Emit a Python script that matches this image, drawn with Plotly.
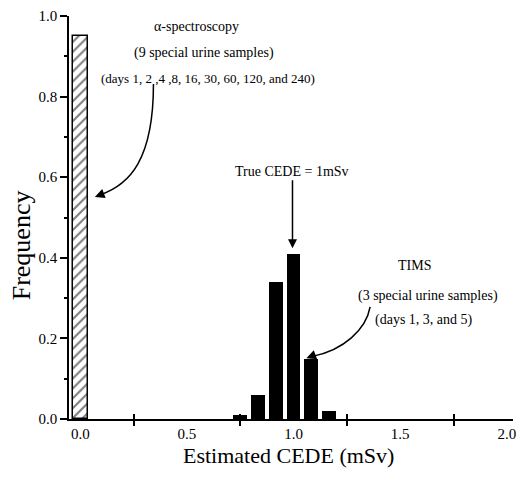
import plotly.graph_objects as go

# ---- data ----
alpha_x = [0.0]
alpha_freq = [0.95]
tims_x = [0.75, 0.833, 0.917, 1.0, 1.083, 1.167]
tims_freq = [0.01, 0.06, 0.34, 0.41, 0.15, 0.02]
x_tick_vals = [0.0, 0.5, 1.0, 1.5, 2.0]
x_tick_text = ["0.0", "0.5", "1.0", "1.5", "2.0"]
y_tick_vals = [0.0, 0.2, 0.4, 0.6, 0.8, 1.0]
y_tick_text = ["0.0", "0.2", "0.4", "0.6", "0.8", "1.0"]

FONT = "Liberation Serif"

fig = go.Figure()
fig.add_trace(go.Bar(
    x=alpha_x, y=alpha_freq, width=0.07,
    marker=dict(color="white", line=dict(color="black", width=1.5),
                pattern=dict(shape="/", fgcolor="black", bgcolor="white",
                             size=7, solidity=0.3)),
    showlegend=False, hoverinfo="skip"))
fig.add_trace(go.Bar(
    x=tims_x, y=tims_freq, width=0.065,
    marker=dict(color="black", line=dict(width=0)),
    showlegend=False, hoverinfo="skip"))
# invisible trace for the overlay axis carrying the inner half of crossing ticks
fig.add_trace(go.Scatter(x=[0.25], y=[0], xaxis="x2", mode="markers",
                         marker=dict(opacity=0), showlegend=False, hoverinfo="skip"))

fig.update_layout(
    width=519, height=486,
    margin=dict(l=69, r=3, t=16, b=67),
    plot_bgcolor="white", paper_bgcolor="white",
    font=dict(family=FONT, color="black", size=15),
    bargap=0,
    xaxis=dict(range=[-0.053, 2.029], tickvals=x_tick_vals, ticktext=x_tick_text,
               ticks="", showline=True, linecolor="black", linewidth=1.5,
               showgrid=False, zeroline=False, tickfont=dict(size=15),
               ticklabeloverflow="allow",
               minor=dict(ticks="outside", tickmode="array",
                          tickvals=[0.25, 0.75, 1.25, 1.75],
                          ticklen=5, tickwidth=1.5, tickcolor="black", showgrid=False)),
    xaxis2=dict(range=[-0.053, 2.029], overlaying="x", anchor="y", side="bottom",
                tickvals=[0.25, 0.75, 1.25, 1.75], ticks="inside", ticklen=5,
                tickwidth=1.5, tickcolor="black", showticklabels=False,
                showgrid=False, zeroline=False, showline=False),
    yaxis=dict(range=[0, 1.0], tickvals=y_tick_vals, ticktext=y_tick_text,
               ticks="outside", ticklen=7, tickwidth=1.5, tickcolor="black",
               showline=True, linecolor="black", linewidth=1.5,
               showgrid=False, zeroline=False, tickfont=dict(size=15),
               minor=dict(ticks="outside", dtick=0.1, tick0=0.1, ticklen=3,
                          tickwidth=1.5, tickcolor="black", showgrid=False)),
)

def txt(x, y, s, size=14):
    fig.add_annotation(x=x, y=y, xref="x", yref="y", text=s, showarrow=False,
                       xanchor="center", yanchor="middle",
                       font=dict(family=FONT, size=size, color="black"))

txt(0.544, 0.973, "α-spectroscopy")
txt(0.581, 0.908, "(9 special urine samples)")
txt(0.599, 0.846, "(days 1, 2 ,4 ,8, 16, 30, 60, 120, and 240)", size=13)
txt(1.568, 0.380, "TIMS")
txt(1.629, 0.305, "(3 special urine samples)")
txt(1.610, 0.246, "(days 1, 3, and 5)")

# True CEDE straight arrow
fig.add_annotation(x=0.995, y=0.424, xref="x", yref="y", text="True CEDE = 1mSv",
                   showarrow=True, ax=0, ay=-77, arrowhead=2, arrowsize=1.2,
                   arrowwidth=1.5, arrowcolor="black",
                   font=dict(family=FONT, size=14, color="black"))

# curved arrows
fig.add_shape(type="path", xref="x", yref="y",
              path="M 0.343,0.831 C 0.343,0.643 0.231,0.581 0.092,0.556",
              line=dict(color="black", width=1.5))
fig.add_annotation(x=0.068, y=0.551, xref="x", yref="y", text="", showarrow=True,
                   ax=8, ay=-3, arrowhead=2, arrowsize=1.3, arrowwidth=1.5,
                   arrowcolor="black")
fig.add_shape(type="path", xref="x", yref="y",
              path="M 1.359,0.278 C 1.340,0.221 1.232,0.171 1.093,0.156",
              line=dict(color="black", width=1.5))
fig.add_annotation(x=1.060, y=0.151, xref="x", yref="y", text="", showarrow=True,
                   ax=8, ay=-3, arrowhead=2, arrowsize=1.3, arrowwidth=1.5,
                   arrowcolor="black")

# axis titles (positions given in pixels, converted to paper coords)
pl, pw, pt, ph = 69, 447, 16, 403
fig.add_annotation(x=(22 - pl) / pw, y=(pt + ph - 245) / ph, xref="paper", yref="paper",
                   text="Frequency", showarrow=False, textangle=-90,
                   xanchor="center", yanchor="middle",
                   font=dict(family=FONT, size=26, color="black"))
fig.add_annotation(x=(290 - pl) / pw, y=(pt + ph - 455) / ph, xref="paper", yref="paper",
                   text="Estimated CEDE (mSv)", showarrow=False,
                   xanchor="center", yanchor="middle",
                   font=dict(family=FONT, size=22, color="black"))

fig.write_html("out.html")
